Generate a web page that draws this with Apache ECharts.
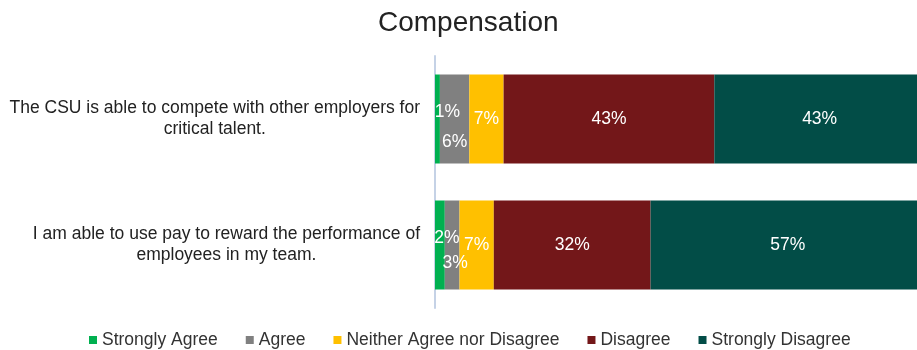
<!DOCTYPE html>
<html>
<head>
<meta charset="utf-8">
<script src="https://cdn.jsdelivr.net/npm/echarts@6/dist/echarts.min.js"></script>
<style>html,body{margin:0;padding:0;background:#fff}#c{width:917px;height:350px}</style>
</head>
<body>
<div id="c"></div>
<script>
const categories = [
  "The CSU is able to compete with other employers for\ncritical talent.",
  "I am able to use pay to reward the performance of\nemployees in my team."
];
const seriesNames = ["Strongly Agree", "Agree", "Neither Agree nor Disagree", "Disagree", "Strongly Disagree"];
const stronglyAgree = [1, 2];
const agree = [6, 3];
const neither = [7, 7];
const disagree = [43, 32];
const stronglyDisagree = [43, 57];

const values = [stronglyAgree, agree, neither, disagree, stronglyDisagree];
const colors = ["#00B050", "#808080", "#FFC000", "#731719", "#024D47"];
// label nudges for narrow segments: [seriesIndex][categoryIndex]
const labelOffsets = {
  "0-0": [10, -7], "1-0": [0, 23],
  "0-1": [7, -7], "1-1": [3, 18]
};
const FONT = "'Liberation Sans', Arial, sans-serif";
const FS = 17.5;

const chart = echarts.init(document.getElementById('c'), null, {renderer: 'canvas'});
const series = seriesNames.map((name, si) => ({
  name,
  type: 'bar',
  stack: 'total',
  barWidth: 89,
  itemStyle: {color: colors[si]},
  label: {
    show: true,
    position: 'inside',
    color: '#fff',
    fontSize: FS,
    fontFamily: FONT,
    formatter: p => p.value + '%'
  },
  data: values[si].map((v, ci) => {
    const off = labelOffsets[si + '-' + ci];
    return off ? {value: v, label: {offset: off}} : v;
  })
}));

chart.setOption({
  animation: false,
  title: {
    text: 'Compensation',
    left: 373,
    top: 4,
    textStyle: {fontSize: 28, fontWeight: 'normal', color: '#222', fontFamily: FONT}
  },
  legend: {
    data: seriesNames,
    top: 326,
    left: 84,
    icon: 'rect',
    itemWidth: 8,
    itemHeight: 8,
    itemGap: 28,
    itemStyle: {borderWidth: 0},
    textStyle: {fontSize: FS, color: '#333', fontFamily: FONT}
  },
  grid: {left: 435, width: 490, top: 56, height: 252, containLabel: false, outerBoundsMode: 'none'},
  xAxis: {
    type: 'value', min: 0, max: 100,
    show: false
  },
  yAxis: {
    type: 'category',
    inverse: true,
    data: categories,
    axisLine: {show: true, lineStyle: {color: '#C5D2E6', width: 2}},
    axisTick: {show: false},
    axisLabel: {
      margin: 15,
      color: '#222',
      fontSize: FS,
      fontFamily: FONT,
      formatter: v => v.split('\n').map(s => '{c|' + s + '}').join('\n'),
      rich: {c: {align: 'center', fontSize: FS, lineHeight: 21, fontFamily: FONT, color: '#222'}}
    }
  },
  series
});
</script>
</body>
</html>
